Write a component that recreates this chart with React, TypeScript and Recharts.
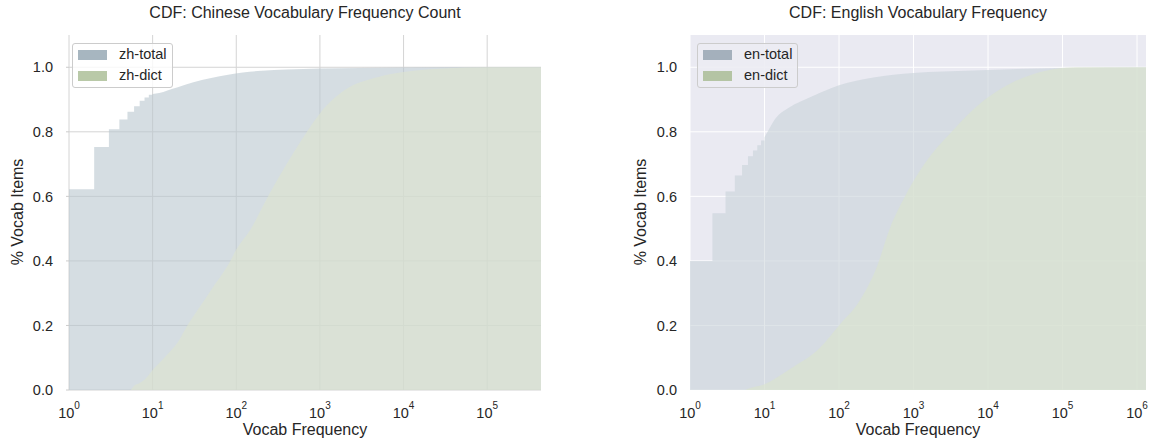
import { ComposedChart, Area, XAxis, YAxis, CartesianGrid } from 'recharts'

// Chinese panel: integer steps at the low end, then the smooth part of the CDF
const zhTotalStepX = [1, 2, 3, 4, 5, 6, 7, 8, 9, 10]
const zhTotalStepY = [0.622, 0.753, 0.808, 0.838, 0.862, 0.879, 0.896, 0.906, 0.915, 0.917]
const zhTotalCurveX = [10, 12, 15, 20, 30, 50, 80, 120, 200, 400, 1000, 3000, 10000, 100000, 440000]
const zhTotalCurveY = [0.917, 0.92, 0.928, 0.938, 0.953, 0.967, 0.977, 0.984, 0.989, 0.993, 0.996, 0.998, 0.999, 1, 1]
const zhDictX = [5.5, 6, 7, 8, 10, 15, 20, 26, 35, 50, 85, 100, 150, 240, 400, 700, 1000, 2000, 5000, 10000, 30000, 100000, 440000]
const zhDictY = [0, 0.013, 0.022, 0.032, 0.062, 0.11, 0.148, 0.2, 0.25, 0.31, 0.4, 0.435, 0.5, 0.6, 0.7, 0.8, 0.857, 0.93, 0.97, 0.985, 0.996, 1, 1]

// English panel
const enTotalStepX = [1, 2, 3, 4, 5, 6, 7, 8, 9, 10]
const enTotalStepY = [0.4, 0.548, 0.615, 0.665, 0.697, 0.724, 0.742, 0.758, 0.773, 0.783]
const enTotalCurveX = [10, 11, 12, 13, 22, 30, 47, 100, 290, 1000, 6300, 100000, 1320000]
const enTotalCurveY = [0.783, 0.8, 0.816, 0.83, 0.877, 0.893, 0.913, 0.944, 0.968, 0.982, 0.99, 0.998, 1]
const enDictX = [5.5, 6, 10, 22, 55, 100, 190, 320, 480, 770, 1400, 3250, 9100, 20000, 62000, 150000, 1320000]
const enDictY = [0, 0.004, 0.018, 0.065, 0.13, 0.2, 0.277, 0.38, 0.5, 0.6, 0.7, 0.8, 0.9, 0.95, 0.99, 1, 1]

const zhTicks = [1, 10, 100, 1000, 10000, 100000]
const enTicks = [1, 10, 100, 1000, 10000, 100000, 1000000]
const yTicks = [0, 0.2, 0.4, 0.6, 0.8, 1.0]

const font = "'Liberation Sans', Arial, sans-serif"
const ink = '#262626'

const toRows = (xs: number[], ys: number[]) => xs.map((x, i) => ({ x, y: ys[i] }))

function PowTick({ x, y, payload }: any) {
  const exp = Math.round(Math.log10(payload.value))
  return (
    <text x={x} y={y + 28} textAnchor="middle" fill={ink} fontSize={14.5} fontFamily={font}>
      10
      <tspan fontSize={10} dy={-9}>
        {exp}
      </tspan>
    </text>
  )
}

function LegendBox({
  left,
  bg,
  items,
}: {
  left: number
  bg: string
  items: { label: string; color: string }[]
}) {
  return (
    <div
      style={{
        position: 'absolute',
        left,
        top: 43,
        width: 101,
        height: 45,
        boxSizing: 'border-box',
        border: '1px solid #cccccc',
        borderRadius: 3,
        background: bg,
      }}
    >
      {items.map((it, i) => (
        <div key={it.label} style={{ position: 'absolute', left: 5, top: 5 + i * 21, height: 11, display: 'flex', alignItems: 'center' }}>
          <span style={{ display: 'inline-block', width: 29, height: 10, background: it.color }} />
          <span style={{ marginLeft: 12, fontSize: 14.5, color: ink, fontFamily: font, lineHeight: '11px' }}>{it.label}</span>
        </div>
      ))}
    </div>
  )
}

function Panel({
  left,
  width,
  marginLeft,
  marginRight,
  ticks,
  maxX,
  dark,
  totalStep,
  totalCurve,
  dict,
}: {
  left: number
  width: number
  marginLeft: number
  marginRight: number
  ticks: number[]
  maxX: number
  dark: boolean
  totalStep: { x: number; y: number }[]
  totalCurve: { x: number; y: number }[]
  dict: { x: number; y: number }[]
}) {
  const totalFill = dark ? '#c8d2d9' : '#b9c6cf'
  const dictFill = dark ? '#dbe4cc' : '#dde5ce'
  return (
    <div style={{ position: 'absolute', left, top: 0 }}>
      <ComposedChart width={width} height={440} margin={{ top: 35, right: marginRight, left: marginLeft, bottom: 0 }}>
        <CartesianGrid
          stroke={dark ? '#ffffff' : '#d4d4d4'}
          strokeWidth={1}
          fill={dark ? '#eaeaf2' : '#ffffff'}
          fillOpacity={1}
          syncWithTicks
        />
        <XAxis
          dataKey="x"
          type="number"
          scale="log"
          domain={[1, maxX]}
          ticks={ticks}
          allowDataOverflow
          axisLine={false}
          tickLine={false}
          tickSize={0}
          tickMargin={0}
          height={50}
          tick={<PowTick />}
          interval={0}
        />
        <YAxis
          type="number"
          domain={[0, 1.1]}
          ticks={yTicks}
          allowDataOverflow
          width={50}
          axisLine={false}
          tickLine={dark ? false : { stroke: '#cccccc' }}
          tickSize={dark ? 0 : 3}
          tickMargin={13}
          tickFormatter={(v: number) => v.toFixed(1)}
          tick={{ fill: ink, fontSize: 14.5, fontFamily: font }}
        />
        <Area
          data={totalStep}
          dataKey="y"
          type="stepAfter"
          stroke="none"
          fill={totalFill}
          fillOpacity={0.6}
          isAnimationActive={false}
        />
        <Area
          data={totalCurve}
          dataKey="y"
          type="monotone"
          stroke="none"
          fill={totalFill}
          fillOpacity={0.6}
          isAnimationActive={false}
        />
        <Area
          data={dict}
          dataKey="y"
          type="monotone"
          stroke="none"
          fill={dictFill}
          fillOpacity={0.6}
          isAnimationActive={false}
        />
      </ComposedChart>
    </div>
  )
}

function Label({ x, y, text, rotate }: { x: number; y: number; text: string; rotate?: boolean }) {
  return (
    <div
      style={{
        position: 'absolute',
        left: x,
        top: y,
        transform: `translate(-50%, -50%)${rotate ? ' rotate(-90deg)' : ''}`,
        whiteSpace: 'nowrap',
        fontFamily: font,
        fontSize: 16,
        color: ink,
        lineHeight: '18px',
      }}
    >
      {text}
    </div>
  )
}

export default function App() {
  return (
    <div style={{ position: 'absolute', left: 0, top: 0, width: 1153, height: 440, background: '#ffffff', overflow: 'hidden' }}>
      <Panel
        left={0}
        width={560}
        marginLeft={19}
        marginRight={19}
        ticks={zhTicks}
        maxX={440000}
        dark={false}
        totalStep={toRows(zhTotalStepX, zhTotalStepY)}
        totalCurve={toRows(zhTotalCurveX, zhTotalCurveY)}
        dict={toRows(zhDictX, zhDictY)}
      />
      <Panel
        left={600}
        width={553}
        marginLeft={40}
        marginRight={7}
        ticks={enTicks}
        maxX={1320000}
        dark={true}
        totalStep={toRows(enTotalStepX, enTotalStepY)}
        totalCurve={toRows(enTotalCurveX, enTotalCurveY)}
        dict={toRows(enDictX, enDictY)}
      />

      <Label x={305} y={13} text="CDF: Chinese Vocabulary Frequency Count" />
      <Label x={918} y={13} text="CDF: English Vocabulary Frequency" />
      <Label x={18} y={212} text="% Vocab Items" rotate />
      <Label x={641} y={212} text="% Vocab Items" rotate />
      <Label x={305} y={430} text="Vocab Frequency" />
      <Label x={918} y={430} text="Vocab Frequency" />

      <LegendBox
        left={72}
        bg="rgba(255,255,255,0.8)"
        items={[
          { label: 'zh-total', color: '#a7b6c0' },
          { label: 'zh-dict', color: '#b9c9a8' },
        ]}
      />
      <LegendBox
        left={697}
        bg="rgba(236,236,243,0.9)"
        items={[
          { label: 'en-total', color: '#a4b0bc' },
          { label: 'en-dict', color: '#b4c4a4' },
        ]}
      />
    </div>
  )
}
